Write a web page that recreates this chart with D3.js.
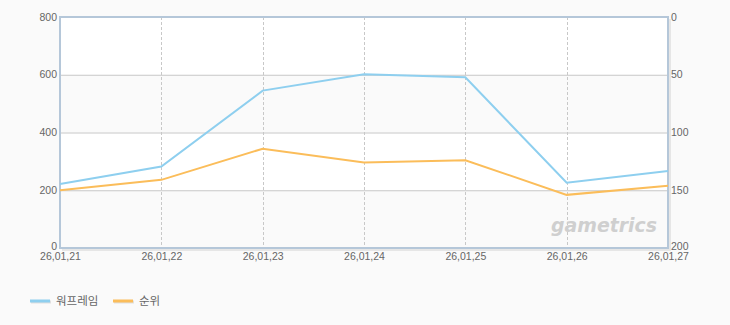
<!DOCTYPE html>
<html><head><meta charset="utf-8">
<script src="https://cdn.jsdelivr.net/npm/d3@7/dist/d3.min.js"></script>
<style>
html,body{margin:0;padding:0;background:#fafafa;}
svg{display:block;}
text{font-family:"Liberation Sans",sans-serif;}
</style></head>
<body><svg id="c" width="730" height="325"></svg>
<script>
const categories = ["26,01,21","26,01,22","26,01,23","26,01,24","26,01,25","26,01,26","26,01,27"];
const seriesNames = ["워프레임","순위"];
const players = [222, 282, 545, 602, 591, 226, 267];
const ranks = [150, 141, 114, 126, 124, 154, 146];
const leftTicks = [0, 200, 400, 600, 800];
const rightTicks = [0, 50, 100, 150, 200];
const colors = ["#8ecfef", "#fbbd5a"];

const svg = d3.select("#c");
const L = 60, R = 668, T = 17, B = 248;
const x = d3.scalePoint().domain(categories).range([L, R]);
const yL = d3.scaleLinear().domain([0, 800]).range([B, T]);
const yR = d3.scaleLinear().domain([0, 200]).range([T, B]);

// shadow
svg.append("rect").attr("x", L+2).attr("y", T+2).attr("width", R-L+1).attr("height", B-T+1).attr("fill", "#e6e6e6");
// bands
svg.append("rect").attr("x", L).attr("y", T).attr("width", R-L).attr("height", B-T).attr("fill", "#ffffff");
for (let i = 0; i < leftTicks.length - 1; i++) {
  if (i % 2 === 0) {
    svg.append("rect").attr("x", L).attr("y", yL(leftTicks[i+1])).attr("width", R-L)
      .attr("height", yL(leftTicks[i]) - yL(leftTicks[i+1])).attr("fill", "#fafafa");
  }
}
// horizontal grid
svg.append("g").selectAll("line").data(leftTicks.slice(1, -1)).join("line")
  .attr("x1", L).attr("x2", R).attr("y1", d => yL(d)+0.5).attr("y2", d => yL(d)+0.5)
  .attr("stroke", "#c8c8c8").attr("stroke-width", 1);
// vertical dashed grid
svg.append("g").selectAll("line").data(categories.slice(1, -1)).join("line")
  .attr("x1", d => Math.round(x(d))+0.5).attr("x2", d => Math.round(x(d))+0.5).attr("y1", T).attr("y2", B)
  .attr("stroke", "#c8c8c8").attr("stroke-width", 1).attr("stroke-dasharray", "3,2");

// watermark
svg.append("text").attr("x", 604).attr("y", 232).attr("text-anchor", "middle")
  .attr("font-size", 20).attr("font-weight", "bold").attr("font-style", "italic")
  .attr("textLength", 106).attr("lengthAdjust", "spacingAndGlyphs")
  .attr("fill", "#cfcfcf").style("font-family", "'DejaVu Sans', sans-serif").text("gametrics");

// frame
svg.append("rect").attr("x", L).attr("y", T).attr("width", R-L).attr("height", B-T)
  .attr("fill", "none").attr("stroke", "#b5c7d9").attr("stroke-width", 2);

// lines
const lineL = d3.line().x((d, i) => x(categories[i])).y(d => yL(d));
const lineR = d3.line().x((d, i) => x(categories[i])).y(d => yR(d));
svg.append("path").datum(ranks).attr("d", lineR).attr("fill", "none").attr("stroke", colors[1]).attr("stroke-width", 2);
svg.append("path").datum(players).attr("d", lineL).attr("fill", "none").attr("stroke", colors[0]).attr("stroke-width", 2);

// axes
const fs = 10.5, tc = "#666";
const axL = d3.axisLeft(yL).tickValues(leftTicks).tickSize(0).tickPadding(2);
const gL = svg.append("g").attr("transform", `translate(${L-1},0)`).call(axL);
gL.select(".domain").remove();
gL.selectAll("text").attr("font-size", fs).attr("fill", tc).attr("dy", "0.3em");
gL.selectAll(".tick").filter(d => d === 0).select("text").attr("dy", "0.1em");

const axR = d3.axisRight(yR).tickValues(rightTicks).tickSize(0).tickPadding(2);
const gR = svg.append("g").attr("transform", `translate(${R+1},0)`).call(axR);
gR.select(".domain").remove();
gR.selectAll("text").attr("font-size", fs).attr("fill", tc).attr("dy", "0.3em");
gR.selectAll(".tick").filter(d => d === 200).select("text").attr("dy", "0.1em");

const axB = d3.axisBottom(x).tickSize(0).tickPadding(5);
const gB = svg.append("g").attr("transform", `translate(0,${B})`).call(axB);
gB.select(".domain").remove();
gB.selectAll("text").attr("font-size", fs).attr("fill", tc);

// legend
const legend = svg.append("g");
const lx = [30, 113];
seriesNames.forEach((n, i) => {
  legend.append("line").attr("x1", lx[i]+1).attr("x2", lx[i]+21).attr("y1", 302).attr("y2", 302).attr("stroke", "#e0e0e0").attr("stroke-width", 3);
  legend.append("line").attr("x1", lx[i]).attr("x2", lx[i]+20).attr("y1", 301).attr("y2", 301).attr("stroke", colors[i]).attr("stroke-width", 3);
  legend.append("text").attr("x", lx[i]+26).attr("y", 305).attr("font-size", 11.5).attr("fill", tc)
    .style("font-family", "'Noto Sans CJK KR', sans-serif").text(n);
});
</script></body></html>
